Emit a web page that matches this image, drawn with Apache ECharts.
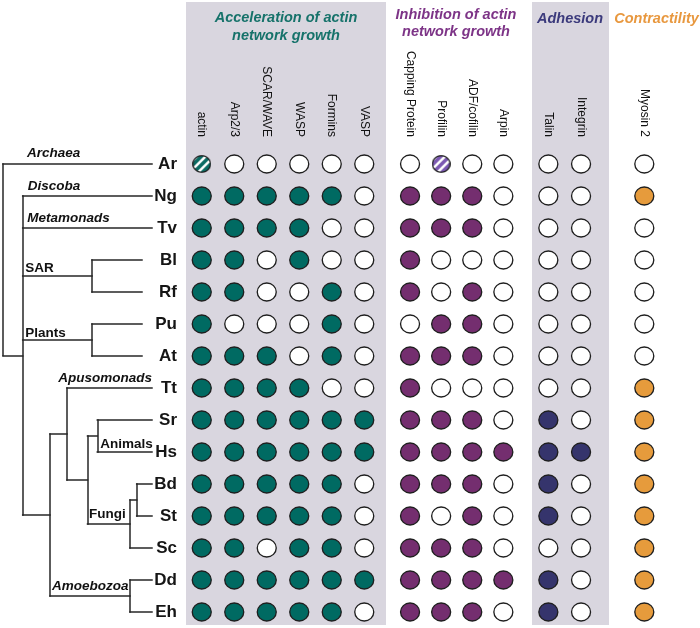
<!DOCTYPE html>
<html><head><meta charset="utf-8">
<script src="https://cdn.jsdelivr.net/npm/echarts@6/dist/echarts.min.js"></script>
<style>html,body{margin:0;padding:0;background:#fff}#c{width:700px;height:628px}</style>
</head><body><div id="c"></div>
<script>
// ---------- data ----------
const taxa = ['Ar','Ng','Tv','Bl','Rf','Pu','At','Tt','Sr','Hs','Bd','St','Sc','Dd','Eh'];
const accelCols = ['actin','Arp2/3','SCAR/WAVE','WASP','Formins','VASP'];
const inhibCols = ['Capping Protein','Profilin','ADF/cofilin','Arpin'];
const adhesionCols = ['Talin','Integrin'];
const contractCols = ['Myosin 2'];
// 1 = present, 0 = absent, 2 = partial (hatched)
const accel = [
 [2,0,0,0,0,0],[1,1,1,1,1,0],[1,1,1,1,0,0],[1,1,0,1,0,0],[1,1,0,0,1,0],
 [1,0,0,0,1,0],[1,1,1,0,1,0],[1,1,1,1,0,0],[1,1,1,1,1,1],[1,1,1,1,1,1],
 [1,1,1,1,1,0],[1,1,1,1,1,0],[1,1,0,1,1,0],[1,1,1,1,1,1],[1,1,1,1,1,0]];
const inhib = [
 [0,2,0,0],[1,1,1,0],[1,1,1,0],[1,0,0,0],[1,0,1,0],
 [0,1,1,0],[1,1,1,0],[1,0,0,0],[1,1,1,0],[1,1,1,1],
 [1,1,1,0],[1,0,1,0],[1,1,1,0],[1,1,1,1],[1,1,1,0]];
const adhesion = [[0,0],[0,0],[0,0],[0,0],[0,0],[0,0],[0,0],[0,0],[1,0],[1,1],[1,0],[1,0],[0,0],[1,0],[1,0]];
const contract = [[0],[1],[0],[0],[0],[0],[0],[1],[1],[1],[1],[1],[1],[1],[1]];

// tree topology (x = branch-point depth along the tree axis)
const tree = {x:3, kids:[
  {leaf:'Ar', clade:'Archaea'},
  {x:22.7, kids:[
    {leaf:'Ng', clade:'Discoba'},
    {leaf:'Tv', clade:'Metamonads'},
    {x:92, clade:'SAR', kids:[{leaf:'Bl'},{leaf:'Rf'}]},
    {x:92, clade:'Plants', kids:[{leaf:'Pu'},{leaf:'At'}]},
    {x:50, kids:[
      {x:67, kids:[
        {leaf:'Tt', clade:'Apusomonads'},
        {x:87.5, kids:[
          {x:97.3, clade:'Animals', kids:[{leaf:'Sr'},{leaf:'Hs'}]},
          {x:130, clade:'Fungi', kids:[{x:136.7, kids:[{leaf:'Bd'},{leaf:'St'}]},{leaf:'Sc'}]}
        ]}
      ]},
      {x:130, clade:'Amoebozoa', kids:[{leaf:'Dd'},{leaf:'Eh'}]}
    ]}
  ]}
]};
const shortTips = ['Bl','Rf','Pu','At'];

// ---------- styling ----------
const FONT = "'Liberation Sans', Arial, sans-serif";
const cladeStyle = {
  Archaea:{italic:true, dx:24, dy:-11},
  Discoba:{italic:true, dx:5, dy:-10},
  Metamonads:{italic:true, dx:4.5, dy:-10},
  SAR:{dx:2.5, dy:-8},
  Plants:{dx:2.5, dy:-7},
  Apusomonads:{italic:true, mode:'end', dy:-10},
  Animals:{mode:'inside', dx:3, dy:-8},
  Fungi:{dx:1.5, dy:-10},
  Amoebozoa:{italic:true, dx:2, dy:-10}
};
const groupColors = ['#006a62','#742e6f','#35346c','#e69b3c'];
const hatchColors = ['#0b6b63','#7b58b2'];
const panelColor = '#d9d6df';

function hatchSymbol(color){
  const W = 38, H = 36, cv = document.createElement('canvas');
  cv.width = W; cv.height = H;
  const ctx = cv.getContext('2d');
  ctx.save();
  ctx.beginPath(); ctx.ellipse(W/2, H/2, W/2-1.5, H/2-1.5, 0, 0, 2*Math.PI); ctx.clip();
  ctx.fillStyle = '#fff'; ctx.fillRect(0, 0, W, H);
  ctx.strokeStyle = color; ctx.lineWidth = 7;
  for (let k=-4;k<=4;k++){ const o = k*17 + 2; ctx.beginPath(); ctx.moveTo(o, H); ctx.lineTo(o+H, 0); ctx.stroke(); }
  ctx.restore();
  ctx.beginPath(); ctx.ellipse(W/2, H/2, W/2-1.5, H/2-1.5, 0, 0, 2*Math.PI);
  ctx.strokeStyle = '#1e1e1e'; ctx.lineWidth = 2.6; ctx.stroke();
  return 'image://' + cv.toDataURL();
}

// ---------- tree layout ----------
function layout(n){
  if (n.leaf){ n.y = taxa.indexOf(n.leaf); n.tip = shortTips.includes(n.leaf) ? 142 : 152; return; }
  n.kids.forEach(layout);
  n.y = (n.kids[0].y + n.kids[n.kids.length-1].y)/2;
  n.tip = n.x;
}
layout(tree);
const segs = [], cladeLabels = [];
function walk(n){
  if (n.leaf) return;
  segs.push({coords:[[n.x, n.kids[0].y],[n.x, n.kids[n.kids.length-1].y]]});
  n.kids.forEach(k => {
    segs.push({coords:[[n.x, k.y],[k.tip, k.y]]});
    if (k.clade){
      const st = cladeStyle[k.clade];
      let value, pos = 'right';
      if (st.mode === 'end'){ value = [k.tip, k.y]; pos = 'left'; }
      else if (st.mode === 'inside'){ value = [k.x + st.dx, k.kids[k.kids.length-1].y]; }
      else { value = [n.x + st.dx, k.y]; }
      cladeLabels.push({name:k.clade, value, label:{position:pos, offset:[0, st.dy],
        fontStyle: st.italic ? 'italic' : 'normal'}});
    }
    walk(k);
  });
}
walk(tree);

// ---------- dot grids ----------
const groups = [
  {cols:accelCols, vals:accel, left:185.5, width:195},
  {cols:inhibCols, vals:inhib, left:394.5, width:124.4},
  {cols:adhesionCols, vals:adhesion, left:532, width:65.4},
  {cols:contractCols, vals:contract, left:628.3, width:32}
];
const TOP = 148, HEIGHT = 480;
const grids = [{left:0, top:TOP, width:178, height:HEIGHT}];
const xAxes = [{gridIndex:0, type:'value', min:0, max:178, show:false}];
const yAxes = [
  {gridIndex:0, type:'category', data:taxa, inverse:true, position:'right',
   axisLine:{show:false}, axisTick:{show:false}, splitLine:{show:false},
   axisLabel:{inside:true, margin:1, fontSize:17, fontWeight:'bold', color:'#151515', fontFamily:FONT}},
  {gridIndex:0, type:'value', min:-0.5, max:14.5, inverse:true, show:false}
];
const series = [
  {type:'lines', coordinateSystem:'cartesian2d', xAxisIndex:0, yAxisIndex:1, silent:true,
   data:segs, lineStyle:{color:'#262626', width:1.5, opacity:1, cap:'square'}, z:3},
  {type:'scatter', xAxisIndex:0, yAxisIndex:1, symbolSize:0, silent:true, data:cladeLabels,
   itemStyle:{opacity:1},
   label:{show:true, formatter:'{b}', distance:0, fontSize:13.5, fontWeight:'bold', color:'#111', fontFamily:FONT}, z:4}
];
groups.forEach((g, gi) => {
  const idx = gi + 1;
  grids.push({left:g.left, top:TOP, width:g.width, height:HEIGHT});
  xAxes.push({gridIndex:idx, type:'category', data:g.cols, position:'top',
    axisLine:{show:false}, axisTick:{show:false}, splitLine:{show:false},
    axisLabel:{rotate:90, margin:11, interval:0, fontSize:12, color:'#111', fontFamily:FONT}});
  yAxes.push({gridIndex:idx, type:'category', data:taxa, inverse:true, show:false});
  const data = [];
  g.vals.forEach((row, r) => row.forEach((v, c) => {
    if (v === 2) {
      data.push({value:[c, r], symbol:hatchSymbol(hatchColors[gi])});
    } else {
      data.push({value:[c, r], itemStyle:{color: v === 1 ? groupColors[gi] : '#ffffff'}});
    }
  }));
  series.push({type:'scatter', xAxisIndex:idx, yAxisIndex:idx + 1, symbol:'circle', symbolSize:[19,18],
    silent:true, data, itemStyle:{borderColor:'#1e1e1e', borderWidth:1.3, opacity:1}, z:5});
});

const titleBase = {textAlign:'center', padding:0, textStyle:{fontSize:14.5, fontWeight:'bold', fontStyle:'italic', fontFamily:FONT, lineHeight:18}};
function t(text, left, top, color, lh){
  return Object.assign({}, titleBase, {text, left, top,
    textStyle:Object.assign({}, titleBase.textStyle, {color, lineHeight:lh || 18})});
}

const chart = echarts.init(document.getElementById('c'), null, {renderer:'canvas'});
chart.setOption({
  animation:false,
  backgroundColor:'#ffffff',
  textStyle:{fontFamily:FONT},
  graphic:[
    {type:'rect', z:-10, shape:{x:186, y:2, width:200, height:623}, style:{fill:panelColor}},
    {type:'rect', z:-10, shape:{x:532, y:2, width:77, height:623}, style:{fill:panelColor}}
  ],
  title:[
    t('Acceleration of actin\nnetwork growth', 286, 9, '#16726a'),
    t('Inhibition of actin\nnetwork growth', 456, 6.5, '#7d3487', 17),
    t('Adhesion', 570, 10, '#3b3a7c'),
    t('Contractility', 656.5, 10, '#e8983f')
  ],
  grid:grids, xAxis:xAxes, yAxis:yAxes, series
});
</script></body></html>
